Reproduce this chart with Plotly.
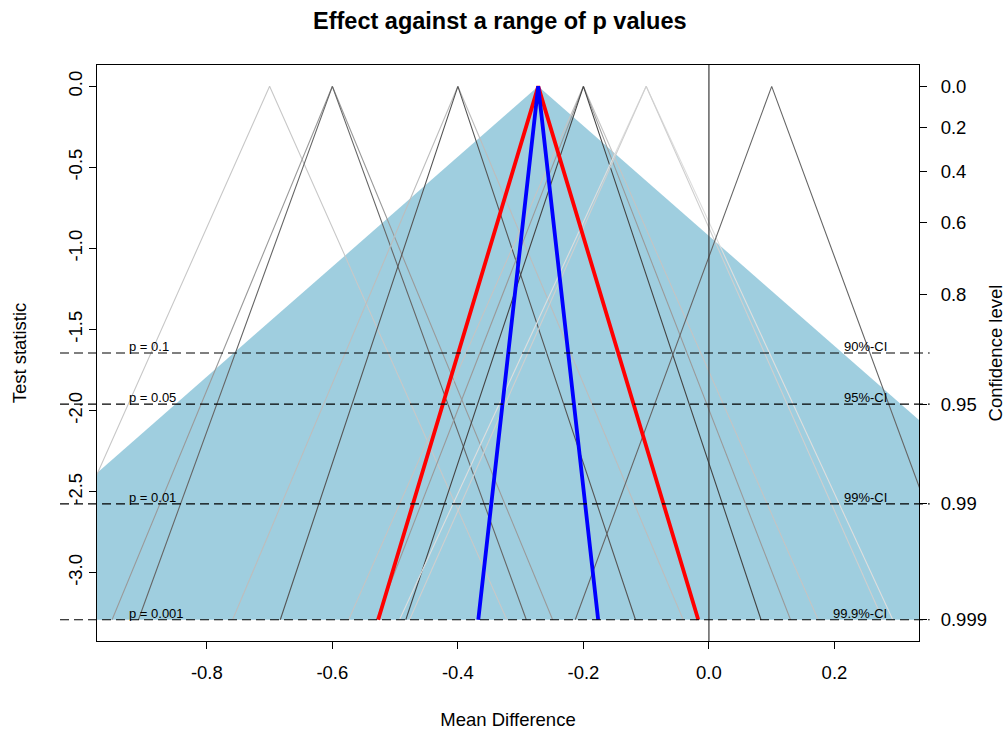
import plotly.graph_objects as go
from statistics import NormalDist

# ---------------- data ----------------
z_max = 3.2905
main_center = -0.272
shade_halfwidth = 0.97          # half width of shaded region at z_max
red_halfwidth = 0.255
blue_halfwidth = 0.0955

grey_centers = [-0.7, -0.6, -0.6, -0.4, -0.4, -0.2, -0.2, -0.2, -0.1, -0.1, 0.1]
grey_halfwidths = [0.378, 0.351, 0.309, 0.359, 0.283, 0.374, 0.330, 0.283, 0.393, 0.377, 0.313]
grey_colors = ["#c8c8c8", "#9a9a9a", "#666666", "#bdbdbd", "#555555", "#c4c4c4",
               "#9a9a9a", "#444444", "#dedede", "#cfcfcf", "#666666"]

p_values = [0.1, 0.05, 0.01, 0.001]
p_labels = ["p = 0.1", "p = 0.05", "p = 0.01", "p = 0.001"]
ci_labels = ["90%-CI", "95%-CI", "99%-CI", "99.9%-CI"]

conf_levels = [0.0, 0.2, 0.4, 0.6, 0.8, 0.95, 0.99, 0.999]
conf_ticktext = ["0.0", "0.2", "0.4", "0.6", "0.8", "0.95", "0.99", "0.999"]

x_ticks = [-0.8, -0.6, -0.4, -0.2, 0.0, 0.2]
y_ticks = [0.0, -0.5, -1.0, -1.5, -2.0, -2.5, -3.0]

nd = NormalDist()
def zval(p):
    return nd.inv_cdf(1 - p / 2)

# ---------------- figure ----------------
fig = go.Figure()

# shaded region
fig.add_trace(go.Scatter(
    x=[main_center - shade_halfwidth, main_center, main_center + shade_halfwidth],
    y=[-z_max, 0, -z_max], fill="toself", fillcolor="#9fcedf",
    line=dict(width=0), mode="lines", hoverinfo="skip", showlegend=False))

# grey triangles
for c, hw, col in zip(grey_centers, grey_halfwidths, grey_colors):
    fig.add_trace(go.Scatter(x=[c - hw, c, c + hw], y=[-z_max, 0, -z_max],
                             mode="lines", line=dict(color=col, width=1.1),
                             hoverinfo="skip", showlegend=False))

# red and blue
fig.add_trace(go.Scatter(x=[main_center - red_halfwidth, main_center, main_center + red_halfwidth],
                         y=[-z_max, 0, -z_max], mode="lines",
                         line=dict(color="#ff0000", width=3.8), showlegend=False))
fig.add_trace(go.Scatter(x=[main_center - blue_halfwidth, main_center, main_center + blue_halfwidth],
                         y=[-z_max, 0, -z_max], mode="lines",
                         line=dict(color="#0000ff", width=3.8), showlegend=False))

# vertical line at 0
fig.add_shape(type="line", xref="x", yref="paper", x0=0, x1=0, y0=0, y1=1,
              line=dict(color="#3a3a3a", width=1.2))

# dashed lines + labels
x_left_text = -0.9265
x_right_text = 0.2865
for p, pl, cl in zip(p_values, p_labels, ci_labels):
    z = zval(p)
    fig.add_shape(type="line", xref="paper", yref="y", x0=-0.045, x1=1.013,
                  y0=-z, y1=-z, line=dict(color="black", width=1.2, dash="9px,5px"))
    fig.add_annotation(x=x_left_text, y=-z, text=pl, showarrow=False,
                       xanchor="left", yanchor="bottom", yshift=-3,
                       font=dict(size=13, color="black"))
    fig.add_annotation(x=x_right_text, y=-z, text=cl, showarrow=False,
                       xanchor="right", yanchor="bottom", yshift=-3,
                       font=dict(size=13, color="black"))

# right axis dummy trace
fig.add_trace(go.Scatter(x=[None], y=[None], yaxis="y2", showlegend=False))

font_family = "Liberation Sans, Arial, Helvetica, sans-serif"
fig.update_layout(
    width=1006, height=731,
    margin=dict(l=97, r=87, t=65, b=90, autoexpand=False),
    paper_bgcolor="white", plot_bgcolor="white",
    font=dict(family=font_family, color="black", size=19),
    title=dict(text="<b>Effect against a range of p values</b>", x=0.49, xref="paper",
               y=0.972, yanchor="middle", font=dict(size=23.5)),
    showlegend=False,
    xaxis=dict(range=[-0.975, 0.3347], tickvals=x_ticks, automargin=False,
               ticktext=["%.1f" % v for v in x_ticks],
               showgrid=False, zeroline=False, showline=True, mirror=True,
               linecolor="black", linewidth=1, ticks="outside", ticklen=7,
               tickcolor="black", tickfont=dict(size=18.5), ticklabelstandoff=8,
               title=dict(text="Mean Difference", font=dict(size=18.5), standoff=30)),
    yaxis=dict(range=[-3.4216, 0.1316], tickvals=y_ticks, automargin=False,
               ticktext=["%.1f" % v for v in y_ticks],
               tickangle=-90,
               showgrid=False, zeroline=False, showline=True, mirror=True,
               linecolor="black", linewidth=1, ticks="outside", ticklen=7,
               tickcolor="black", tickfont=dict(size=18.5),
               title=dict(text="Test statistic", font=dict(size=18.5), standoff=33)),
    yaxis2=dict(range=[-3.4216, 0.1316], overlaying="y", side="right", automargin=False,
                tickvals=[-zval(1 - c) if c > 0 else 0.0 for c in conf_levels],
                ticktext=conf_ticktext,
                showgrid=False, zeroline=False, showline=False,
                ticks="outside", ticklen=7, tickcolor="black",
                tickfont=dict(size=18.5), ticklabelstandoff=10,
                title=dict(text="Confidence level", font=dict(size=18.5), standoff=10)),
)

fig.write_html("out.html")
